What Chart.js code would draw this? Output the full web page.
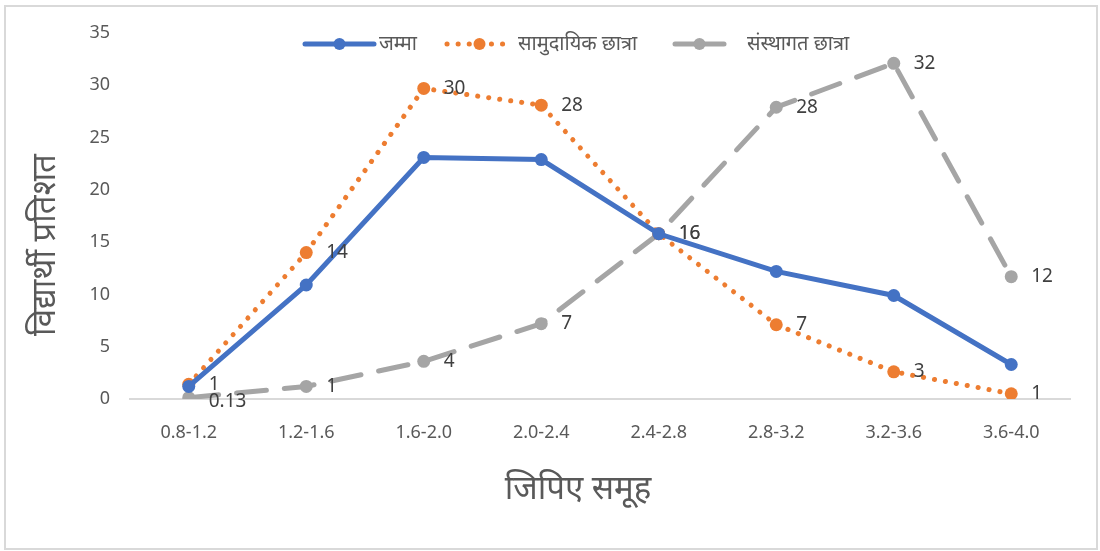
<!DOCTYPE html>
<html>
<head>
<meta charset="utf-8">
<script src="https://cdn.jsdelivr.net/npm/chart.js@4"></script>
<style>
  html, body { margin: 0; padding: 0; background: #fff; }
  #wrap { width: 1100px; height: 551px; position: relative; }
</style>
</head>
<body>
<div id="wrap"><canvas id="chart" width="1100" height="551"></canvas></div>
<script>
(() => {
  const categories = ['0.8-1.2', '1.2-1.6', '1.6-2.0', '2.0-2.4', '2.4-2.8', '2.8-3.2', '3.2-3.6', '3.6-4.0'];
  const totalValues = [1.2, 10.9, 23.1, 22.9, 15.8, 12.2, 9.9, 3.3];        // जम्मा
  const communityValues = [1.4, 14.0, 29.7, 28.1, 15.8, 7.1, 2.6, 0.5];    // सामुदायिक छात्रा
  const institutionalValues = [0.13, 1.2, 3.6, 7.2, 15.8, 27.9, 32.1, 11.7]; // संस्थागत छात्रा
  const yTicks = [0, 5, 10, 15, 20, 25, 30, 35];

  const seriesNames = ['जम्मा', 'सामुदायिक छात्रा', 'संस्थागत छात्रा'];
  const FONT = '"Noto Sans", "Noto Sans Devanagari", "DejaVu Sans", sans-serif';
  const TEXT = '#595959';

  // legend + axis titles + value labels + border
  const extras = {
    id: 'extras',
    afterDatasetsDraw(chart) {
      const ctx = chart.ctx;
      ctx.save();
      ctx.font = '19px ' + FONT;
      ctx.fillStyle = '#404040';
      ctx.textBaseline = 'middle';
      ctx.textAlign = 'left';
      [1, 2].forEach(di => {
        const meta = chart.getDatasetMeta(di);
        meta.data.forEach((pt, i) => {
          const v = chart.data.datasets[di].data[i];
          const r = Math.round(v);
          const txt = r === 0 ? String(v) : String(r);
          ctx.fillText(txt, pt.x + 20, pt.y + (r === 0 ? 4 : 0));
        });
      });
      ctx.restore();
    },
    afterDraw(chart) {
      const ctx = chart.ctx;
      ctx.save();
      // border
      ctx.strokeStyle = '#d9d9d9';
      ctx.lineWidth = 2;
      ctx.strokeRect(5, 6, 1092, 543);

      // legend
      const ly = 44;
      const items = [
        { x0: 305, x1: 374, tx: 379, color: '#4472C4', dash: [], width: 5 },
        { x0: 447, x1: 512, tx: 518, color: '#ED7D31', dash: [0.1, 11], width: 5 },
        { x0: 675, x1: 724, tx: 747, color: '#A5A5A5', dash: [], width: 5 }
      ];
      items.forEach((it, k) => {
        ctx.beginPath();
        ctx.strokeStyle = it.color;
        ctx.lineWidth = it.width;
        ctx.lineCap = 'round';
        ctx.setLineDash(it.dash);
        ctx.moveTo(it.x0, ly);
        ctx.lineTo(it.x1, ly);
        ctx.stroke();
        ctx.setLineDash([]);
        ctx.beginPath();
        ctx.fillStyle = it.color;
        ctx.arc((it.x0 + it.x1) / 2, ly, 6, 0, Math.PI * 2);
        ctx.fill();
        ctx.fillStyle = TEXT;
        ctx.font = '20px ' + FONT;
        ctx.textAlign = 'left';
        ctx.textBaseline = 'middle';
        ctx.fillText(seriesNames[k], it.tx, ly);
      });

      // axis titles
      ctx.fillStyle = TEXT;
      ctx.font = '33px ' + FONT;
      ctx.textAlign = 'center';
      ctx.textBaseline = 'middle';
      ctx.fillText('जिपिए समूह', 578, 490);
      ctx.translate(46, 245);
      ctx.rotate(-Math.PI / 2);
      ctx.fillText('विद्यार्थी प्रतिशत', 0, 0);
      ctx.restore();
    }
  };

  new Chart(document.getElementById('chart').getContext('2d'), {
    type: 'line',
    data: {
      labels: categories,
      datasets: [
        {
          label: seriesNames[0],
          data: totalValues,
          borderColor: '#4472C4',
          backgroundColor: '#4472C4',
          borderWidth: 5,
          pointRadius: 6.5,
          pointBorderWidth: 0,
          tension: 0
        },
        {
          label: seriesNames[1],
          data: communityValues,
          borderColor: '#ED7D31',
          backgroundColor: '#ED7D31',
          borderWidth: 5,
          borderDash: [0.1, 11],
          borderCapStyle: 'round',
          pointRadius: 6.5,
          pointBorderWidth: 0,
          tension: 0
        },
        {
          label: seriesNames[2],
          data: institutionalValues,
          borderColor: '#A5A5A5',
          backgroundColor: '#A5A5A5',
          borderWidth: 5,
          borderDash: [30, 18],
          borderCapStyle: 'round',
          pointRadius: 6.5,
          pointBorderWidth: 0,
          tension: 0
        }
      ]
    },
    options: {
      responsive: false,
      animation: false,
      layout: { padding: { left: 0, right: 30, top: 33, bottom: 0 } },
      plugins: { legend: { display: false }, tooltip: { enabled: false } },
      scales: {
        x: {
          offset: true,
          grid: { display: false, drawTicks: false },
          border: { display: true, color: '#d9d9d9', width: 2 },
          ticks: { color: TEXT, font: { family: FONT, size: 18 }, padding: 23, maxRotation: 0 },
          afterFit: s => { s.height = 152; }
        },
        y: {
          min: 0,
          max: 35,
          afterBuildTicks: s => { s.ticks = yTicks.map(v => ({ value: v })); },
          grid: { display: false, drawTicks: false },
          border: { display: false },
          ticks: { color: TEXT, font: { family: FONT, size: 18 }, padding: 20 },
          afterFit: s => { s.width = 130; }
        }
      }
    },
    plugins: [extras]
  });
})();
</script>
</body>
</html>
